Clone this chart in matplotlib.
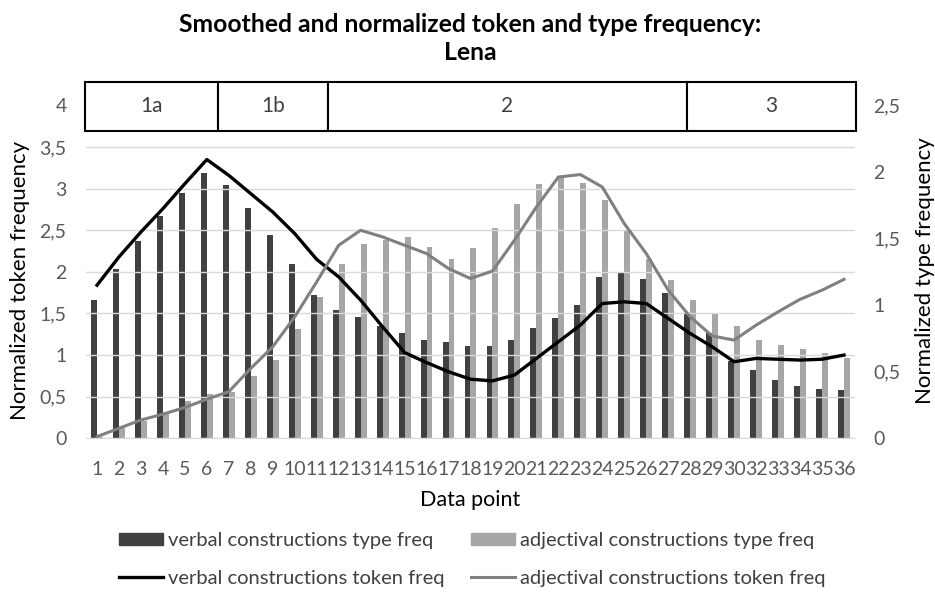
import matplotlib
matplotlib.use('Agg')
import matplotlib.pyplot as plt
from matplotlib.patches import Rectangle, Patch
from matplotlib.lines import Line2D
from matplotlib.ticker import FuncFormatter
import numpy as np

plt.rcParams['font.family'] = ['Lato', 'DejaVu Sans']

# data points (31 is missing in the source)
points = [str(i) for i in range(1, 31)] + ['32', '33', '34', '35', '36']

# type frequency (right axis)
verbal_type = [1.04, 1.27, 1.48, 1.67, 1.84, 1.99, 1.90, 1.73, 1.53, 1.31,
               1.08, 0.96, 0.91, 0.84, 0.79, 0.74, 0.72, 0.69, 0.69, 0.74,
               0.83, 0.90, 1.00, 1.21, 1.25, 1.20, 1.09, 0.94, 0.79, 0.58,
               0.51, 0.44, 0.39, 0.37, 0.36]
adj_type = [0.01, 0.08, 0.13, 0.18, 0.28, 0.33, 0.35, 0.47, 0.59, 0.82,
            1.06, 1.31, 1.46, 1.49, 1.51, 1.44, 1.35, 1.43, 1.58, 1.76,
            1.91, 1.96, 1.92, 1.79, 1.56, 1.35, 1.19, 1.04, 0.93, 0.84,
            0.74, 0.70, 0.67, 0.64, 0.60]

# token frequency (left axis)
verbal_token = [1.84, 2.18, 2.48, 2.76, 3.06, 3.35, 3.16, 2.94, 2.72, 2.46,
                2.15, 1.94, 1.66, 1.34, 1.03, 0.91, 0.80, 0.71, 0.69, 0.76,
                0.96, 1.16, 1.36, 1.62, 1.64, 1.62, 1.44, 1.26, 1.10, 0.92,
                0.96, 0.95, 0.94, 0.95, 1.00]
adj_token = [0.02, 0.12, 0.22, 0.29, 0.37, 0.47, 0.56, 0.84, 1.10, 1.46,
             1.88, 2.32, 2.50, 2.42, 2.32, 2.22, 2.04, 1.92, 2.01, 2.38,
             2.78, 3.14, 3.17, 3.02, 2.58, 2.22, 1.78, 1.46, 1.23, 1.18,
             1.36, 1.52, 1.67, 1.78, 1.91]

# phase box: labels and boundaries in category units
phases = ['1a', '1b', '2', '3']
phase_edges = [-0.56, 5.49, 10.5, 26.87, 34.55]

DARK = '#404040'
LIGHT = '#a6a6a6'
TICK = '#595959'


def comma(v, pos):
    return ('%g' % v).replace('.', ',')


fig = plt.figure(figsize=(9.35, 6.1), dpi=100)
ax = fig.add_axes([0.092, 0.2815, 0.8224, 0.5865])
ax2 = ax.twinx()

x = np.arange(len(points))
w = 0.27
top = 4.3
ratio = 2.5 / 4.0

ax2.bar(x - w / 2, verbal_type, width=w, color=DARK, zorder=2)
ax2.bar(x + w / 2, adj_type, width=w, color=LIGHT, zorder=2)
ax2.set_ylim(0, top * ratio)

ax.set_zorder(ax2.get_zorder() + 1)
ax.patch.set_visible(False)
ax.plot(x, verbal_token, color='black', lw=2.4, zorder=3)
ax.plot(x, adj_token, color='#808080', lw=2.2, zorder=3)
ax.set_ylim(0, top)
ax.set_xlim(-0.5, len(points) - 0.5)

ax.set_yticks(np.arange(0, 4.01, 0.5))
ax2.set_yticks(np.arange(0, 2.51, 0.5))
ax.yaxis.set_major_formatter(FuncFormatter(comma))
ax2.yaxis.set_major_formatter(FuncFormatter(comma))
ax.grid(axis='y', color='#d9d9d9', lw=1, zorder=0)
ax.set_axisbelow(True)

ax.set_xticks(x)
ax.set_xticklabels(points)
for a in (ax, ax2):
    for s in a.spines.values():
        s.set_visible(False)
    a.tick_params(length=0, labelsize=14, labelcolor=TICK)
ax.spines['bottom'].set_visible(True)
ax.spines['bottom'].set_color('#d9d9d9')
ax.tick_params(axis='x', pad=16)
ax.tick_params(axis='y', pad=14)
ax2.tick_params(axis='y', pad=13)

# phase box on top
for i, lab in enumerate(phases):
    x0, x1 = phase_edges[i], phase_edges[i + 1]
    ax.add_patch(Rectangle((x0, 3.69), x1 - x0, 4.286 - 3.69, facecolor='white',
                           edgecolor='black', lw=1.5, zorder=5, clip_on=False))
    ax.text((x0 + x1) / 2, 3.99, lab, ha='center', va='center', fontsize=15,
            color='#404040', zorder=6)

ax.set_ylabel('Normalized token frequency', fontsize=16)
ax.yaxis.set_label_coords(-0.073, 0.442)
ax2.set_ylabel('Normalized type frequency', fontsize=16)
ax2.yaxis.set_label_coords(1.078, 0.47)
ax.set_xlabel('Data point', fontsize=15.5, labelpad=9)

fig.text(0.503, 0.937, 'Smoothed and normalized token and type frequency:\nLena',
         ha='center', va='center', fontsize=17.8, fontweight='bold',
         linespacing=1.25)

handles = [Patch(color=DARK), Line2D([], [], color='black', lw=2.4),
           Patch(color=LIGHT), Line2D([], [], color='#808080', lw=2.2)]
labels = ['verbal constructions type freq', 'verbal constructions token freq',
          'adjectival constructions type freq', 'adjectival constructions token freq']
fig.legend(handles, labels, ncol=2, loc='center', bbox_to_anchor=(0.505, 0.083),
           frameon=False, fontsize=14.5, handlelength=2.2, handleheight=0.55,
           handletextpad=0.25, columnspacing=1.3, labelspacing=1.05,
           labelcolor='#404040')

fig.savefig('out.png', dpi=100)
